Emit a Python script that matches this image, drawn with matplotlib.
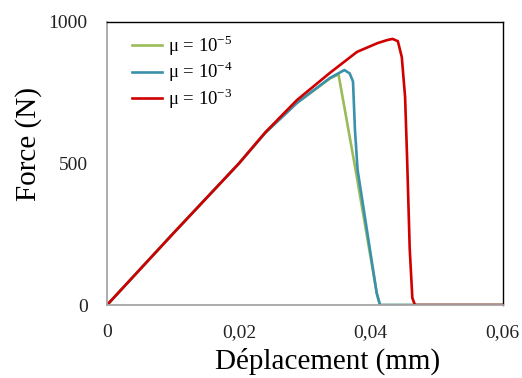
import matplotlib
matplotlib.use("Agg")
import matplotlib.pyplot as plt
from matplotlib.ticker import FuncFormatter

# déplacement (mm) / force (N)
x_e5 = [0, 0.005, 0.010, 0.015, 0.020, 0.024, 0.0288, 0.0338, 0.0351, 0.0377, 0.0409, 0.0414, 0.06]
f_e5 = [0, 126, 252, 376, 500, 608, 714, 800, 815, 477, 42, 0, 0]

x_e4 = [0, 0.005, 0.010, 0.015, 0.020, 0.024, 0.0288, 0.0338, 0.0360, 0.0368, 0.0373, 0.0376, 0.0380, 0.0409, 0.0414, 0.06]
f_e4 = [0, 126, 252, 376, 500, 608, 714, 802, 830, 818, 790, 618, 477, 42, 0, 0]

x_e3 = [0, 0.005, 0.010, 0.015, 0.020, 0.024, 0.0288, 0.0338, 0.0379, 0.041, 0.0425, 0.0433, 0.0441, 0.0447, 0.0452, 0.0455, 0.0459, 0.0463, 0.0467, 0.06]
f_e3 = [0, 126, 252, 376, 500, 610, 724, 820, 894, 925, 936, 940, 932, 876, 735, 523, 200, 25, 0, 0]

labels = [r"μ = 10$^{-5}$", r"μ = 10$^{-4}$", r"μ = 10$^{-3}$"]
colors = ["#9BBB59", "#3A91AC", "#D00000"]

plt.rcParams["font.family"] = ["Liberation Serif", "DejaVu Serif"]
plt.rcParams["mathtext.fontset"] = "custom"
plt.rcParams["mathtext.rm"] = "Liberation Serif"

fig = plt.figure(figsize=(5.22, 3.78), dpi=100)
ax = fig.add_axes([0.205, 0.193, 0.758, 0.749])

for xs, fs, lab, c in zip([x_e5, x_e4, x_e3], [f_e5, f_e4, f_e3], labels, colors):
    ax.plot(xs, fs, color=c, lw=1.9, label=lab, solid_joinstyle="round")

ax.set_xlim(0, 0.06)
ax.set_ylim(0, 1000)
ax.set_xticks([0, 0.02, 0.04, 0.06])
ax.set_yticks([0, 500, 1000])
ax.xaxis.set_major_formatter(FuncFormatter(lambda v, p: "0" if v == 0 else f"{v:.2f}".replace(".", ",")))
ax.tick_params(length=0, labelsize=14, colors="#222222")
ax.tick_params(axis="x", pad=14)
ax.tick_params(axis="y", pad=14)

for s in ["left", "bottom"]:
    ax.spines[s].set_color("#A6A6A6")
    ax.spines[s].set_linewidth(1.3)
for s in ["top", "right"]:
    ax.spines[s].set_color("black")
    ax.spines[s].set_linewidth(1.0)

ax.set_xlabel("Déplacement (mm)", fontsize=21)
ax.set_ylabel("Force (N)", fontsize=21)
ax.xaxis.set_label_coords(0.558, -0.15)
ax.yaxis.set_label_coords(-0.165, 0.57)

ax.legend(loc="upper left", frameon=False, fontsize=13.5, handlelength=1.6,
          handletextpad=0.3, labelspacing=0.08, borderaxespad=0.2, bbox_to_anchor=(0.035, 1.0))

fig.savefig("out.png", dpi=100)
